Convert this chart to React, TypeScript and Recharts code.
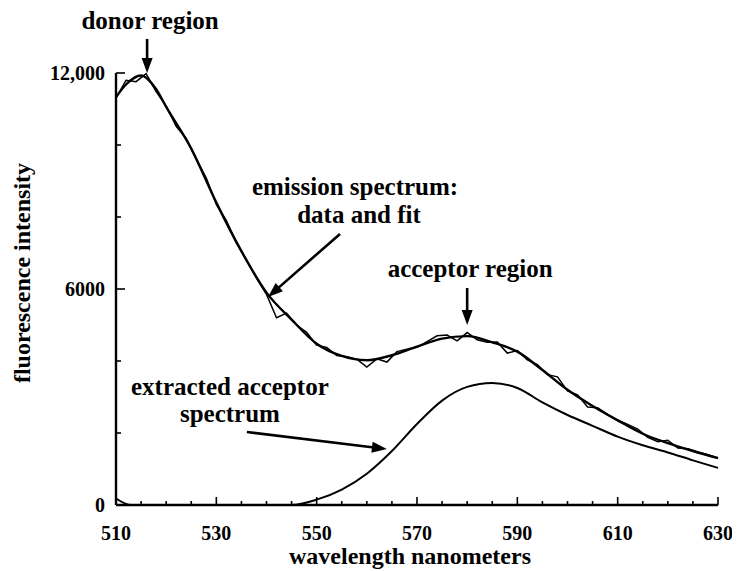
import React from 'react';
import { LineChart, Line, XAxis, YAxis, ReferenceDot, Label } from 'recharts';

// measured emission spectrum, every 2 nm
const dataNm = [
  510, 512, 514, 516, 518, 520, 522, 524, 526, 528, 530, 532, 534, 536, 538, 540, 542, 544, 546, 548,
  550, 552, 554, 556, 558, 560, 562, 564, 566, 568, 570, 572, 574, 576, 578, 580, 582, 584, 586, 588,
  590, 592, 594, 596, 598, 600, 602, 604, 606, 608, 610, 612, 614, 616, 618, 620, 622, 624, 626, 628, 630,
];
const dataValues = [
  11300, 11800, 11760, 11980, 11480, 11080, 10520, 10180, 9600, 9080, 8350, 7900, 7280, 6800, 6300, 5850, 5200, 5330, 5000, 4800,
  4440, 4380, 4150, 4120, 4050, 3830, 4060, 3970, 4260, 4330, 4380, 4540, 4700, 4720, 4560, 4790, 4590, 4520, 4530, 4220,
  4290, 4030, 3900, 3620, 3560, 3170, 3060, 2720, 2700, 2520, 2360, 2240, 2110, 1880, 1760, 1800, 1580, 1560, 1470, 1400, 1310,
];

// fitted emission spectrum
const fitNm = [510, 512, 515, 518, 520, 525, 530, 535, 540, 545, 550, 555, 560, 565, 570, 575, 580, 585, 590, 595, 600, 605, 610, 615, 620, 625, 630];
const fitValues = [11330, 11680, 11930, 11550, 11060, 9900, 8400, 7050, 5900, 5150, 4480, 4140, 4020, 4160, 4400, 4620, 4690, 4520, 4260, 3750, 3200, 2750, 2350, 1980, 1720, 1500, 1300];

// extracted acceptor spectrum
const accNm = [510, 513, 520, 530, 540, 545, 550, 555, 560, 565, 570, 575, 580, 585, 590, 595, 600, 605, 610, 615, 620, 625, 630];
const accValues = [180, 0, 0, 0, 0, 0, 150, 430, 870, 1500, 2250, 2900, 3280, 3390, 3250, 2850, 2500, 2200, 1900, 1660, 1460, 1240, 1030];

const xTicks = [
  510, 515, 520, 525, 530, 535, 540, 545, 550, 555, 560, 565, 570, 575, 580, 585, 590, 595, 600, 605, 610, 615, 620, 625, 630,
];
const xLabelTicks = [510, 530, 550, 570, 590, 610, 630];
const yTicks = [0, 2000, 4000, 6000, 8000, 10000, 12000];
const yLabelTicks = [0, 6000, 12000];
const yTickLabels = ['0', '6000', '12,000'];

const FONT = "'Liberation Serif', 'Times New Roman', serif";

const dataRows = dataNm.map((nm, i) => ({ nm, v: dataValues[i] }));
const fitRows = fitNm.map((nm, i) => ({ nm, v: fitValues[i] }));
const accRows = accNm.map((nm, i) => ({ nm, v: accValues[i] }));

const XTick = (props: any) => {
  const { x, y, payload } = props;
  const major = xLabelTicks.includes(payload.value);
  return (
    <g>
      <line x1={x} x2={x} y1={y} y2={y - (major ? 8 : 4)} stroke="#000" strokeWidth={1.6} />
      {major && (
        <text x={x} y={y + 35} textAnchor="middle" fontFamily={FONT} fontWeight={700} fontSize={20} fill="#000">
          {payload.value}
        </text>
      )}
    </g>
  );
};

const YTick = (props: any) => {
  const { x, y, payload } = props;
  const idx = yLabelTicks.indexOf(payload.value);
  const major = idx >= 0;
  return (
    <g>
      <line x1={x} x2={x + (major ? 9 : 5)} y1={y} y2={y} stroke="#000" strokeWidth={1.6} />
      {major && (
        <text x={x - 11} y={y + 7} textAnchor="end" fontFamily={FONT} fontWeight={700} fontSize={20} fill="#000">
          {yTickLabels[idx]}
        </text>
      )}
    </g>
  );
};

// arrow from (cx+dx, cy+dy) to the tip (cx, cy), with text lines placed relative to the tip
const arrowNote = (dx: number, dy: number, lines: { text: string; ox: number; oy: number }[]) => (props: any) => {
  const { cx, cy } = props;
  const len = Math.sqrt(dx * dx + dy * dy);
  const ux = -dx / len;
  const uy = -dy / len;
  const head = 15;
  const half = 5.5;
  const bx = cx - ux * head;
  const by = cy - uy * head;
  return (
    <g>
      <line x1={cx + dx} y1={cy + dy} x2={bx + ux * 2} y2={by + uy * 2} stroke="#000" strokeWidth={2.6} />
      <polygon
        points={`${cx},${cy} ${bx - uy * half},${by + ux * half} ${bx + uy * half},${by - ux * half}`}
        fill="#000"
      />
      {lines.map((l) => (
        <text
          key={l.text}
          x={cx + l.ox}
          y={cy + l.oy}
          textAnchor="middle"
          fontFamily={FONT}
          fontWeight={700}
          fontSize={25}
          fill="#000"
        >
          {l.text}
        </text>
      ))}
    </g>
  );
};

export default function App() {
  return (
    <div style={{ width: 724, height: 563 }}>
      <LineChart width={724} height={563} margin={{ top: 65, right: 14, left: 28, bottom: 0 }}>
        <XAxis
          dataKey="nm"
          type="number"
          domain={[510, 630]}
          ticks={xTicks}
          interval={0}
          tickSize={0}
          tickMargin={0}
          tick={<XTick />}
          height={66}
          axisLine={{ stroke: '#000', strokeWidth: 2.4 }}
          tickLine={false}
          allowDuplicatedCategory={false}
        >
          <Label
            content={(p: any) => {
              const vb = p.viewBox;
              return (
                <text
                  x={vb.x + vb.width / 2 - 7}
                  y={vb.y + 59}
                  textAnchor="middle"
                  fontFamily={FONT}
                  fontWeight={700}
                  fontSize={24}
                  fill="#000"
                >
                  wavelength nanometers
                </text>
              );
            }}
          />
        </XAxis>
        <YAxis
          type="number"
          domain={[0, 12000]}
          ticks={yTicks}
          interval={0}
          tickSize={0}
          tickMargin={0}
          tick={<YTick />}
          width={80}
          axisLine={{ stroke: '#000', strokeWidth: 2.4 }}
          tickLine={false}
        >
          <Label
            content={(p: any) => {
              const vb = p.viewBox;
              const bx = vb.x - 6;
              const cy = vb.y + vb.height / 2 - 16;
              return (
                <text
                  x={bx}
                  y={cy}
                  transform={`rotate(-90 ${bx} ${cy})`}
                  textAnchor="middle"
                  fontFamily={FONT}
                  fontWeight={700}
                  fontSize={24}
                  fill="#000"
                >
                  fluorescence intensity
                </text>
              );
            }}
          />
        </YAxis>
        <Line data={accRows} dataKey="v" type="monotone" stroke="#000" strokeWidth={2} dot={false} isAnimationActive={false} />
        <Line data={fitRows} dataKey="v" type="monotone" stroke="#000" strokeWidth={2.4} dot={false} isAnimationActive={false} />
        <Line data={dataRows} dataKey="v" type="linear" stroke="#000" strokeWidth={1.5} dot={false} isAnimationActive={false} />
        <ReferenceDot
          x={516.2}
          y={12000}
          r={0}
          ifOverflow="visible"
          shape={arrowNote(0, -34, [{ text: 'donor region', ox: 3, oy: -44 }])}
        />
        <ReferenceDot
          x={540.3}
          y={5780}
          r={0}
          ifOverflow="visible"
          shape={arrowNote(72, -63, [
            { text: 'emission spectrum:', ox: 87, oy: -102 },
            { text: 'data and fit', ox: 91, oy: -74 },
          ])}
        />
        <ReferenceDot
          x={580}
          y={5000}
          r={0}
          ifOverflow="visible"
          shape={arrowNote(0, -37, [{ text: 'acceptor region', ox: 3, oy: -48 }])}
        />
        <ReferenceDot
          x={564}
          y={1556}
          r={0}
          ifOverflow="visible"
          shape={arrowNote(-140, -17, [
            { text: 'extracted acceptor', ox: -157, oy: -54 },
            { text: 'spectrum', ox: -157, oy: -27 },
          ])}
        />
      </LineChart>
    </div>
  );
}
